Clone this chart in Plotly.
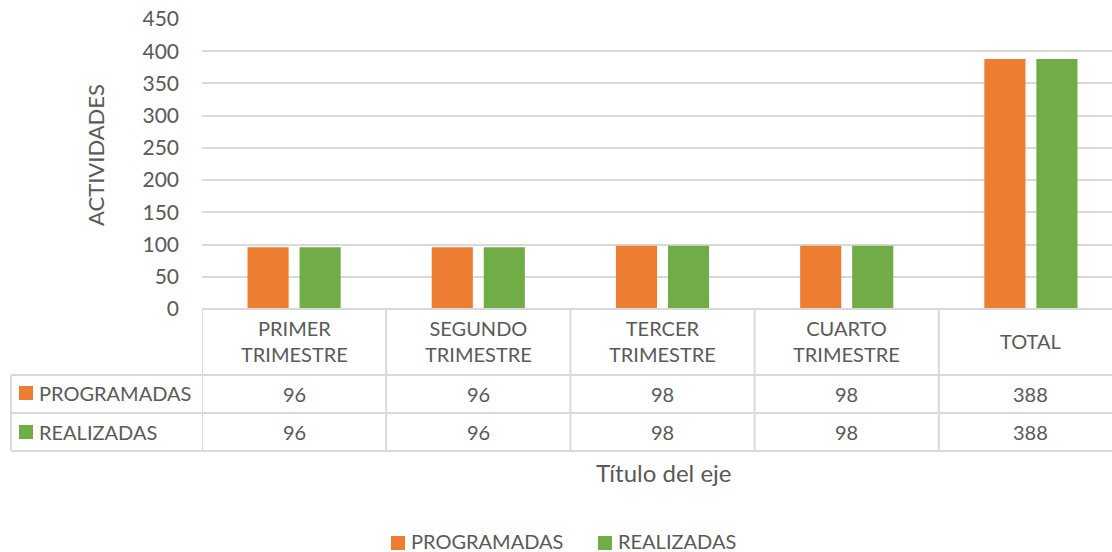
import plotly.graph_objects as go

categorias = ["PRIMER TRIMESTRE", "SEGUNDO TRIMESTRE", "TERCER TRIMESTRE", "CUARTO TRIMESTRE", "TOTAL"]
etiquetas = ["PRIMER<br>TRIMESTRE", "SEGUNDO<br>TRIMESTRE", "TERCER<br>TRIMESTRE", "CUARTO<br>TRIMESTRE", "TOTAL"]
programadas = [96, 96, 98, 98, 388]
realizadas = [96, 96, 98, 98, 388]
series = [("PROGRAMADAS", programadas, "#ED7D31"), ("REALIZADAS", realizadas, "#70AD47")]

W, H = 1112, 552
L, T, B = 202, 19, 309          # area del grafico en pixeles
FONT = "Lato, Calibri, sans-serif"
GRIS = "#595959"
LINEA = "#D9D9D9"
FS = 20


def px(x):
    return (x - L) / (W - L)


def py(y):
    return (B - y) / (B - T)


def texto(x, y, t, size=FS, xref="paper", **kw):
    return dict(x=x, y=y, xref=xref, yref="paper", text=t, showarrow=False,
                xanchor=kw.pop("xanchor", "center"), yanchor="middle",
                font=dict(size=size, color=GRIS, family=FONT), **kw)


fig = go.Figure()
for nombre, valores, color in series:
    fig.add_trace(go.Bar(x=list(range(len(categorias))), y=valores, name=nombre,
                         marker=dict(color=color, line=dict(width=0))))

shapes = []
annotations = []
n = len(categorias)

# lineas de la tabla de datos
shapes.append(dict(type="line", xref="paper", yref="paper", x0=0, x1=1, y0=0, y1=0,
                   line=dict(color=LINEA, width=2)))
for yy in [375, 413, 451]:
    shapes.append(dict(type="line", xref="paper", yref="paper", x0=px(11), x1=1,
                       y0=py(yy), y1=py(yy), line=dict(color=LINEA, width=2)))
shapes.append(dict(type="line", xref="paper", yref="paper", x0=px(11), x1=px(11),
                   y0=py(375), y1=py(451), line=dict(color=LINEA, width=2)))
for i in range(n):
    shapes.append(dict(type="line", xref="x", yref="paper", x0=i - 0.5, x1=i - 0.5,
                       y0=0, y1=py(451), line=dict(color=LINEA, width=2)))

# encabezados y valores
for i, et in enumerate(etiquetas):
    annotations.append(texto(i, py(341), et, xref="x", align="center"))
    for (nombre, valores, color), yy in zip(series, [394, 432]):
        annotations.append(texto(i, py(yy), str(valores[i]), xref="x"))

# claves de serie en la tabla
for (nombre, valores, color), yy in zip(series, [393, 432]):
    shapes.append(dict(type="rect", xref="paper", yref="paper", x0=px(19), x1=px(33),
                       y0=py(yy - 7), y1=py(yy + 7), fillcolor=color, line=dict(width=0)))
    annotations.append(texto(px(37), py(yy), nombre, xanchor="left"))

# leyenda inferior
for (nombre, valores, color), x0 in zip(series, [391, 598]):
    shapes.append(dict(type="rect", xref="paper", yref="paper", x0=px(x0), x1=px(x0 + 14),
                       y0=py(543 - 7), y1=py(543 + 7), fillcolor=color, line=dict(width=0)))
    annotations.append(texto(px(x0 + 18), py(541), nombre, xanchor="left"))

annotations.append(texto(px(95), py(155), "ACTIVIDADES", size=22, textangle=-90))
annotations.append(texto(px(663), py(472), "Título del eje", size=24))

fig.update_layout(
    width=W, height=H,
    margin=dict(l=L, r=0, t=T, b=H - B, pad=0),
    plot_bgcolor="white", paper_bgcolor="white",
    barmode="group", bargap=0.435, bargroupgap=0.21,
    showlegend=False,
    font=dict(family=FONT, color=GRIS, size=FS),
    xaxis=dict(range=[-0.5, n - 0.5 - 11 / 184], showticklabels=False, showgrid=False,
               zeroline=False, showline=False, fixedrange=True),
    yaxis=dict(range=[0, 450], dtick=50, showgrid=True, gridcolor=LINEA, gridwidth=2,
               zeroline=False, showline=False, ticks="", ticklabelstandoff=22,
               tickfont=dict(size=21, color=GRIS, family=FONT)),
    shapes=shapes, annotations=annotations,
)

fig.write_html("out.html", config={"displayModeBar": False},
               post_script="document.body.style.margin='0';document.body.style.overflow='hidden';")
